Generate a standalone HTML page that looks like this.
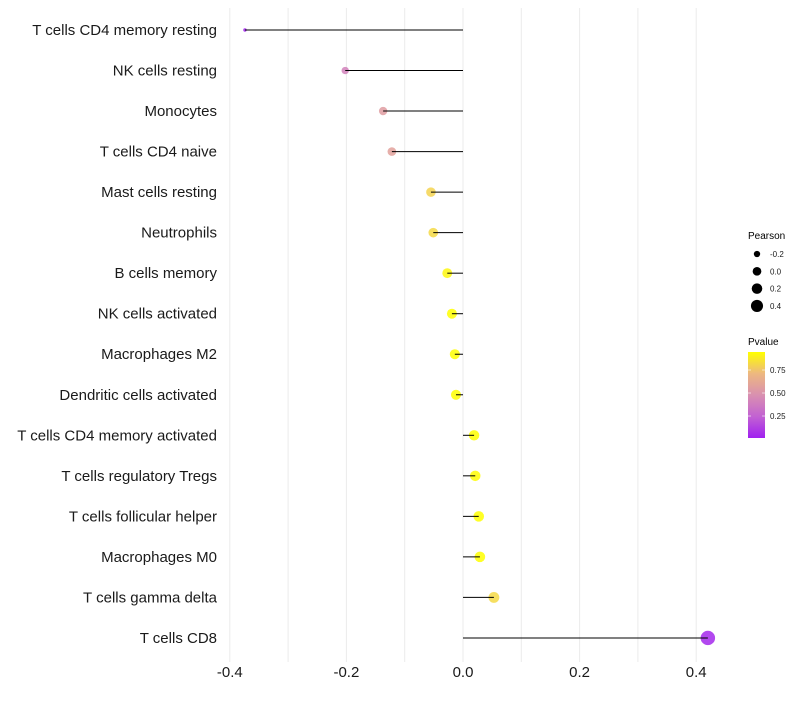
<!DOCTYPE html>
<html><head><meta charset="utf-8"><style>
body{margin:0;background:#fff;}
svg text{font-family:"Liberation Sans",sans-serif;}
</style></head><body>
<svg id="chart" width="800" height="700" xmlns="http://www.w3.org/2000/svg">
<g id="grid"></g>
<g id="marks"></g>
<g id="ylabels"></g>
<g id="xlabels"></g>
<g>
<text x="748" y="239" font-size="10">Pearson</text>
<g id="sizeLegend"></g>
</g>
<g>
<text x="748" y="345" font-size="10">Pvalue</text>
<defs><linearGradient id="pg" x1="0" y1="1" x2="0" y2="0">
<stop offset="0" stop-color="#A020F0"/><stop offset="0.25" stop-color="#C262D2"/><stop offset="0.5" stop-color="#D990B0"/><stop offset="0.75" stop-color="#EDB880"/><stop offset="1" stop-color="#FFFF00"/></linearGradient></defs>
<rect x="748" y="352" width="17" height="86" fill="url(#pg)"/>
<g id="cbTicks"></g>
</g>
</svg>
<script>
const categories=["T cells CD4 memory resting","NK cells resting","Monocytes","T cells CD4 naive","Mast cells resting","Neutrophils","B cells memory","NK cells activated","Macrophages M2","Dendritic cells activated","T cells CD4 memory activated","T cells regulatory  Tregs ","T cells follicular helper","Macrophages M0","T cells gamma delta","T cells CD8"];
const pearson=[-0.374,-0.202,-0.137,-0.122,-0.055,-0.051,-0.027,-0.019,-0.014,-0.012,0.019,0.021,0.027,0.029,0.053,0.42];
const pvalues=[0.02,0.4,0.55,0.58,0.8,0.82,0.92,0.95,0.95,0.95,0.95,0.94,0.95,0.95,0.82,0.04];
const xTicks=[-0.4,-0.2,0.0,0.2,0.4];
const xTickLabels=["-0.4","-0.2","0.0","0.2","0.4"];
const sizeBreaks=[-0.2,0.0,0.2,0.4];
const sizeLabels=["-0.2","0.0","0.2","0.4"];
const cbBreaks=[0.25,0.5,0.75];
const cbLabels=["0.25","0.50","0.75"];

const NS="http://www.w3.org/2000/svg";
const X=v=>463+v*583;
const Y=i=>30+i*40.53;
const R=v=>Math.sqrt(3+62*Math.max(0,v+0.374));
const CB=p=>438-(p-0.011)*92;
const stops=[[0,[160,32,240]],[0.25,[194,98,210]],[0.5,[217,144,176]],[0.75,[237,184,128]],[1,[255,255,0]]];
function color(p){
 const t=Math.max(0,Math.min(1,(p-0.011)/(0.946-0.011)));
 for(let k=1;k<stops.length;k++){ if(t<=stops[k][0]){
  const [t0,a]=stops[k-1],[t1,b]=stops[k];const f=(t-t0)/(t1-t0);
  return `rgb(${a.map((c,j)=>Math.round(c+(b[j]-c)*f))})`;}}
 return 'rgb(255,255,0)';}
function mk(tag,attrs,parent){const e=document.createElementNS(NS,tag);for(const k in attrs)e.setAttribute(k,attrs[k]);parent.appendChild(e);return e;}

const grid=document.getElementById('grid');
for(let v=-0.4;v<=0.4001;v+=0.1){
 const l=mk('line',{x1:X(v),x2:X(v),y1:8,y2:662,stroke:'#ebebeb','stroke-width':1},grid);
 
 
}
const marks=document.getElementById('marks');
const yl=document.getElementById('ylabels');
categories.forEach((c,i)=>{
 const pt=mk('circle',{cx:X(pearson[i]),cy:Y(i),r:R(pearson[i]),fill:color(pvalues[i]),'fill-opacity':0.85},marks);
 
 
 const ln=mk('line',{x1:X(0),x2:X(pearson[i]),y1:Y(i),y2:Y(i),stroke:'#000','stroke-width':1},marks);
 
 
 const t=mk('text',{x:217,y:Y(i)+5,'font-size':15,'text-anchor':'end',fill:'#1a1a1a'},yl);
 t.textContent=c;
 
 
});
const xl=document.getElementById('xlabels');
xTicks.forEach((v,i)=>{
 const t=mk('text',{x:X(v),y:677,'font-size':15,'text-anchor':'middle',fill:'#1a1a1a'},xl);
 t.textContent=xTickLabels[i];
 
 
});
const sl=document.getElementById('sizeLegend');
sizeBreaks.forEach((v,i)=>{
 const cy=254+i*17.3;
 const c=mk('circle',{cx:757,cy:cy,r:R(v)*0.85,fill:'#000'},sl);
 
 
 const t=mk('text',{x:770,y:cy+3,'font-size':8,fill:'#1a1a1a'},sl);
 t.textContent=sizeLabels[i];
 
 
});
const cb=document.getElementById('cbTicks');
cbBreaks.forEach((p,i)=>{
 const y=CB(p);
 mk('line',{x1:748,x2:751,y1:y,y2:y,stroke:'#fff','stroke-width':0.6},cb);
 mk('line',{x1:762,x2:765,y1:y,y2:y,stroke:'#fff','stroke-width':0.6},cb);
 const t=mk('text',{x:770,y:y+3,'font-size':8,fill:'#1a1a1a'},cb);
 t.textContent=cbLabels[i];
 
 
});
</script>
</body></html>
